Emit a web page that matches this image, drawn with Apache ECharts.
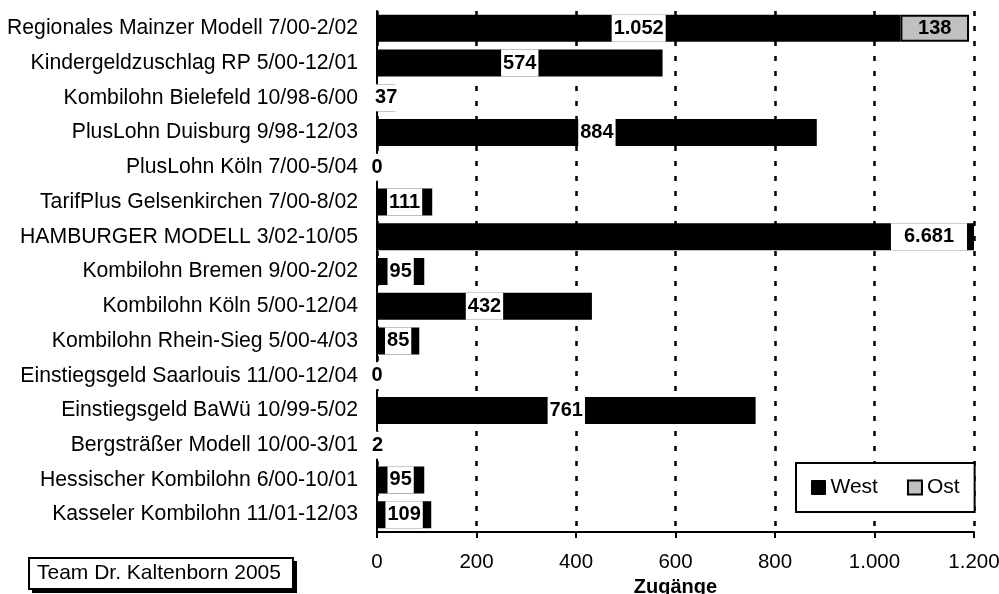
<!DOCTYPE html>
<html>
<head>
<meta charset="utf-8">
<script src="https://cdn.jsdelivr.net/npm/echarts@6/dist/echarts.min.js"></script>
<style>
html,body{margin:0;padding:0;background:#fff;}
#chart{width:999px;height:594px;}
</style>
</head>
<body>
<div id="chart"></div>
<script>
const categories = [
  "Regionales Mainzer Modell 7/00-2/02",
  "Kindergeldzuschlag RP 5/00-12/01",
  "Kombilohn Bielefeld 10/98-6/00",
  "PlusLohn Duisburg 9/98-12/03",
  "PlusLohn Köln 7/00-5/04",
  "TarifPlus Gelsenkirchen 7/00-8/02",
  "HAMBURGER MODELL 3/02-10/05",
  "Kombilohn Bremen 9/00-2/02",
  "Kombilohn Köln 5/00-12/04",
  "Kombilohn Rhein-Sieg 5/00-4/03",
  "Einstiegsgeld Saarlouis 11/00-12/04",
  "Einstiegsgeld BaWü 10/99-5/02",
  "Bergsträßer Modell 10/00-3/01",
  "Hessischer Kombilohn 6/00-10/01",
  "Kasseler Kombilohn 11/01-12/03"
];
const westValues = [1052, 574, 37, 884, 0, 111, 6681, 95, 432, 85, 0, 761, 2, 95, 109];
const ostValues = [138, null, null, null, null, null, null, null, null, null, null, null, null, null, null];
const xTicks = [0, 200, 400, 600, 800, 1000, 1200];
const axisMax = 1200;

const FONT = "'Liberation Sans', Arial, sans-serif";
function de(v){ return String(v).replace(/\B(?=(\d{3})+(?!\d))/g, '.'); }

const westData = westValues.map(v => {
  if (v > axisMax) {
    return { value: v, label: { position: 'insideRight', distance: 7, padding: [2, 13] } };
  }
  return v;
});
const ostData = ostValues.map(v => v == null ? '-' : v);

const chart = echarts.init(document.getElementById('chart'), null, {renderer:'canvas'});
chart.setOption({
  animation: false,
  backgroundColor: '#fff',
  grid: { left: 377, right: 25, top: 11, bottom: 62, containLabel: false, outerBoundsMode: 'none' },
  legend: {
    left: 796, top: 463,
    orient: 'horizontal',
    backgroundColor: '#fff',
    borderColor: '#000', borderWidth: 2, borderRadius: 0,
    padding: [14, 15],
    itemGap: 29,
    itemWidth: 14, itemHeight: 14,
    icon: 'rect',
    textStyle: { fontFamily: FONT, fontSize: 21, color: '#000' },
    data: [
      { name: 'West', itemStyle: { color: '#000', borderColor: '#000', borderWidth: 1 } },
      { name: 'Ost', itemStyle: { color: '#c0c0c0', borderColor: '#000', borderWidth: 2 } }
    ]
  },
  xAxis: {
    type: 'value', min: 0, max: axisMax, interval: 200,
    name: 'Zugänge', nameLocation: 'middle', nameGap: 42,
    nameTextStyle: { fontFamily: FONT, fontSize: 20, fontWeight: 'bold', color: '#000' },
    axisLine: { show: true, lineStyle: { color: '#000', width: 2 } },
    axisTick: { show: true, length: 6, lineStyle: { color: '#000', width: 2 } },
    axisLabel: { fontFamily: FONT, fontSize: 20.5, color: '#000', margin: 20,
      formatter: v => xTicks.includes(v) ? de(v) : '' },
    splitLine: { show: true, lineStyle: { color: '#000', width: 2.5, type: [5, 10] } }
  },
  yAxis: {
    type: 'category', data: categories, inverse: true,
    axisLine: { show: true, lineStyle: { color: '#000', width: 2 } },
    axisTick: { show: false },
    axisLabel: { fontFamily: FONT, fontSize: 21.2, color: '#000', margin: 19 },
    splitLine: { show: false }
  },
  series: [
    {
      name: 'West', type: 'bar', stack: 'total', data: westData,
      barWidth: 27,
      itemStyle: { color: '#000' },
      label: {
        show: true, position: 'inside',
        fontFamily: FONT, fontSize: 20, fontWeight: 'bold', color: '#000',
        backgroundColor: '#fff', padding: [2, 2], lineHeight: 23,
        formatter: p => de(p.value)
      },
      z: 3
    },
    {
      name: 'Ost', type: 'bar', stack: 'total', data: ostData,
      barWidth: 27,
      itemStyle: { color: '#c0c0c0', borderColor: '#000', borderWidth: 2 },
      label: {
        show: true, position: 'inside',
        fontFamily: FONT, fontSize: 20, fontWeight: 'bold', color: '#000',
        formatter: p => de(p.value)
      },
      z: 3
    }
  ],
  graphic: [
    { type: 'rect', left: 32, top: 561, shape: { width: 265, height: 32 }, style: { fill: '#000' }, silent: true },
    { type: 'rect', left: 28, top: 557, shape: { width: 264, height: 31 }, style: { fill: '#fff', stroke: '#000', lineWidth: 2 }, silent: true },
    { type: 'text', left: 37, top: 563, style: { text: 'Team Dr. Kaltenborn 2005', font: "21px 'Liberation Sans', Arial, sans-serif", fill: '#000' }, silent: true }
  ]
});
</script>
</body>
</html>
